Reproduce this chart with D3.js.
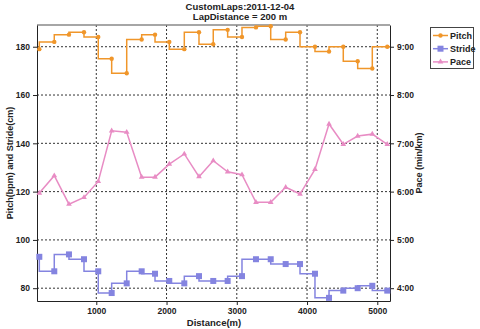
<!DOCTYPE html>
<html><head><meta charset="utf-8">
<script src="https://cdn.jsdelivr.net/npm/d3@7"></script>
<style>body{margin:0;background:#fff}svg{display:block;font-family:"Liberation Sans",Arial,sans-serif}</style>
</head><body><svg id="c" width="480" height="329"></svg>
<script>
const distance = [189,402,611,825,1028,1219,1433,1646,1836,2039,2253,2462,2665,2870,3074,3273,3483,3696,3900,4113,4313,4516,4721,4929,5142];
const pitch = [179,182,185,186,184,175,169,183,185,182,179,186,181,187,184,188,188.5,183,186,180,178,180,174,171,180];
const stride = [93,87,94,92,87,78,82,87,86,83,82,85,83,83,85,92,92,90,90,86,76,79,80,81,79];
const pace = [5.97,6.33,5.74,5.88,6.21,7.26,7.23,6.30,6.30,6.57,6.78,6.31,6.64,6.41,6.35,5.78,5.78,6.09,5.95,6.46,7.40,6.98,7.15,7.19,6.98];
const leftTicks = [80,100,120,140,160,180];
const rightTicks = [4,5,6,7,8,9];
const xTicks = [1000,2000,3000,4000,5000];
const titleLines = ["CustomLaps:2011-12-04","LapDistance = 200 m"];

const svg = d3.select("#c");
const L=37,R=390,T=25,B=301;
const x = d3.scaleLinear().domain([156,5181]).range([L,R]);
const y = d3.scaleLinear().domain([74.7,189]).range([B,T]);
const yR = d3.scaleLinear().domain([3.735,9.45]).range([B,T]);
const colP="#f0962a", colS="#8484e0", colPa="#e88cc4";

// grid
const g = svg.append("g");
g.selectAll(".hg").data(leftTicks).join("line").attr("x1",L).attr("x2",R)
 .attr("y1",d=>y(d)).attr("y2",d=>y(d)).attr("stroke","#333").attr("stroke-dasharray","2,2").attr("stroke-width",1);
g.selectAll(".vg").data(xTicks).join("line").attr("y1",T).attr("y2",B)
 .attr("x1",d=>x(d)).attr("x2",d=>x(d)).attr("stroke","#333").attr("stroke-dasharray","2,2").attr("stroke-width",1);

// frame
svg.append("line").attr("x1",L).attr("x2",R).attr("y1",T).attr("y2",T).attr("stroke","#888").attr("stroke-width",1.5);

// axes
const fmtPace = d=>Math.floor(d)+":"+String(Math.round((d%1)*60)).padStart(2,"0");
const ax = (sel)=>{sel.selectAll("text").attr("font-size",8.5).attr("font-weight","bold").attr("fill","#222");sel.selectAll("path,line").attr("stroke","#222");};
svg.append("g").attr("transform",`translate(0,${B})`).call(d3.axisBottom(x).tickValues(xTicks).tickSize(4).tickSizeOuter(0).tickFormat(d3.format("d"))).call(ax);
svg.append("g").attr("transform",`translate(${L},0)`).call(d3.axisLeft(y).tickValues(leftTicks).tickSize(4).tickSizeOuter(0)).call(ax);
svg.append("g").attr("transform",`translate(${R},0)`).call(d3.axisRight(yR).tickValues(rightTicks).tickSize(4).tickSizeOuter(0).tickFormat(fmtPace)).call(ax);

// series
const idx = d3.range(distance.length);
const plot = svg.append("g");
const stepLine = (vals)=>d3.line().curve(d3.curveStepBefore).x(i=>x(distance[i])).y(i=>y(vals[i]));
const last = distance.length-1;
plot.append("path").attr("d",stepLine(pitch)(idx)).attr("fill","none").attr("stroke",colP).attr("stroke-width",1.5);
plot.append("line").attr("x1",x(distance[last])).attr("x2",R).attr("y1",y(pitch[last])).attr("y2",y(pitch[last])).attr("stroke",colP).attr("stroke-width",1.5);
plot.selectAll(".pp").data(idx).join("circle").attr("cx",i=>x(distance[i])).attr("cy",i=>y(pitch[i])).attr("r",2.2).attr("fill",colP);

plot.append("path").attr("d",stepLine(stride)(idx)).attr("fill","none").attr("stroke",colS).attr("stroke-width",1.5);
plot.append("line").attr("x1",x(distance[last])).attr("x2",R).attr("y1",y(stride[last])).attr("y2",y(stride[last])).attr("stroke",colS).attr("stroke-width",1.5);
plot.selectAll(".sp").data(idx).join("rect").attr("x",i=>x(distance[i])-3).attr("y",i=>y(stride[i])-3).attr("width",6).attr("height",6).attr("fill",colS);

const paceLine = d3.line().x(i=>x(distance[i])).y(i=>yR(pace[i]));
plot.append("path").attr("d",paceLine(idx)).attr("fill","none").attr("stroke",colPa).attr("stroke-width",1.5);
const tri = d3.symbol().type(d3.symbolTriangle).size(14);
plot.selectAll(".tp").data(idx).join("path").attr("d",tri).attr("transform",i=>`translate(${x(distance[i])},${yR(pace[i])})`).attr("fill",colPa);

// titles
svg.selectAll(".tt").data(titleLines).join("text").attr("x",240).attr("y",(d,i)=>10+i*9.5).attr("text-anchor","middle")
 .attr("font-size",9.5).attr("font-weight","bold").attr("fill","#222").text(d=>d);
svg.append("text").attr("x",214).attr("y",326).attr("text-anchor","middle").attr("font-size",9.5).attr("font-weight","bold").attr("fill","#222").text("Distance(m)");
svg.append("text").attr("transform","translate(13,163) rotate(-90)").attr("text-anchor","middle").attr("font-size",9).attr("font-weight","bold").attr("fill","#222").text("Pitch(bpm) and Stride(cm)");
svg.append("text").attr("transform","translate(422,163) rotate(-90)").attr("text-anchor","middle").attr("font-size",9).attr("font-weight","bold").attr("fill","#222").text("Pace (min/km)");

// legend
const names=["Pitch","Stride","Pace"], cols=[colP,colS,colPa];
const lg = svg.append("g");
lg.append("rect").attr("x",430.5).attr("y",27.5).attr("width",43).attr("height",41).attr("fill","#fff").attr("stroke","#444");
names.forEach((n,i)=>{
  const yy=35.5+i*13.2;
  lg.append("line").attr("x1",433).attr("x2",448).attr("y1",yy).attr("y2",yy).attr("stroke",cols[i]).attr("stroke-width",1.5);
  if(i===0) lg.append("circle").attr("cx",440.5).attr("cy",yy).attr("r",2.2).attr("fill",cols[i]);
  if(i===1) lg.append("rect").attr("x",437.5).attr("y",yy-3).attr("width",6).attr("height",6).attr("fill",cols[i]);
  if(i===2) lg.append("path").attr("d",tri).attr("transform",`translate(440.5,${yy})`).attr("fill",cols[i]);
  lg.append("text").attr("x",450).attr("y",yy+3.3).attr("font-size",9).attr("font-weight","bold").attr("fill","#222").text(n);
});
</script></body></html>
